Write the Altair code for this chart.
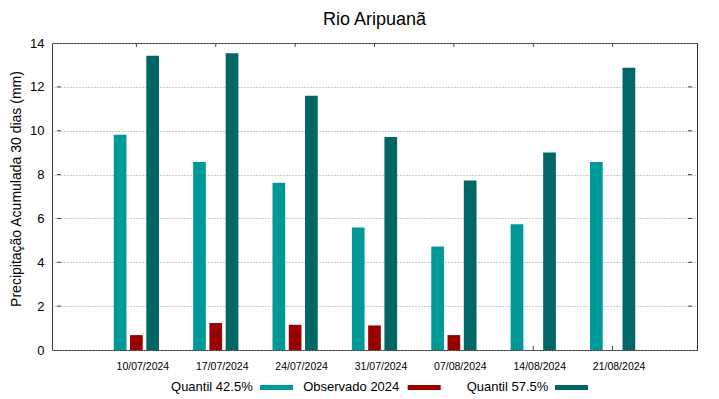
import altair as alt
import pandas as pd

# ---- data ----
dates = ["10/07/2024", "17/07/2024", "24/07/2024", "31/07/2024",
         "07/08/2024", "14/08/2024", "21/08/2024"]
quantil_425 = [9.82, 8.57, 7.63, 5.59, 4.72, 5.74, 8.57]
observado_2024 = [0.68, 1.23, 1.15, 1.12, 0.68, None, None]
quantil_575 = [13.42, 13.53, 11.60, 9.71, 7.73, 9.01, 12.87]

chart_title = "Rio Aripuanã"
y_title = "Precipitação Acumulada 30 dias (mm)"
series_names = ["Quantil 42.5%", "Observado 2024", "Quantil 57.5%"]
series_colors = ["#009999", "#990000", "#006666"]
y_ticks = [0, 2, 4, 6, 8, 10, 12, 14]

rows = []
for i, d in enumerate(dates):
    for name, vals in zip(series_names, [quantil_425, observado_2024, quantil_575]):
        v = vals[i]
        if v is None:
            continue
        rows.append({"pos": i + 1, "date": d, "series": name, "value": v})
df = pd.DataFrame(rows)
pos_df = pd.DataFrame({"pos": list(range(1, len(dates) + 1))})
ytick_df = pd.DataFrame({"v": y_ticks[1:-1]})

label_expr = "[" + ",".join("'%s'" % d for d in dates) + "][datum.value - 1]"

x_scale = alt.Scale(domain=[0, len(dates) + 1], nice=False, zero=False)
y_scale = alt.Scale(domain=[0, 14], nice=False)

bars = alt.Chart(df).transform_calculate(
    xpos="datum.pos + (datum.series == 'Quantil 42.5%' ? -0.205 : (datum.series == 'Quantil 57.5%' ? 0.205 : 0))"
).mark_bar(size=12.7).encode(
    x=alt.X("xpos:Q", scale=x_scale, axis=alt.Axis(
        values=list(range(1, len(dates) + 1)), labelExpr=label_expr,
        grid=False, ticks=False, domain=False, labelPadding=11, labelOffset=6,
        labelFontSize=10.5, labelColor="#000", title=None)),
    y=alt.Y("value:Q", scale=y_scale, axis=alt.Axis(
        values=y_ticks, grid=True, gridDash=[1, 2], gridColor="#999",
        ticks=False, domain=False, labelFontSize=13, labelPadding=8,
        labelColor="#000",
        title=y_title, titleFontSize=14,
        titleFontWeight="normal", titleColor="#000", titleX=-36, titleY=145.5,
        titleAlign="center", titleBaseline="middle")),
    color=alt.Color("series:N", scale=alt.Scale(domain=series_names, range=series_colors),
                    legend=None),
)

tick_color = "#444"
top_ticks = alt.Chart(pos_df).mark_rule(color=tick_color).encode(
    x=alt.X("pos:Q", scale=x_scale), y=alt.datum(14), y2=alt.datum(13.82))
bottom_ticks = alt.Chart(pos_df).mark_rule(color=tick_color).encode(
    x=alt.X("pos:Q", scale=x_scale), y=alt.datum(0), y2=alt.datum(0.18))
right_ticks = alt.Chart(ytick_df).mark_rule(color=tick_color).encode(
    y=alt.Y("v:Q", scale=y_scale), x=alt.datum(8), x2=alt.datum(7.95))
left_ticks = alt.Chart(ytick_df).mark_rule(color=tick_color).encode(
    y=alt.Y("v:Q", scale=y_scale), x=alt.datum(0), x2=alt.datum(0.05))

title_layer = alt.Chart(pd.DataFrame({"t": [chart_title]})).mark_text(
    align="center", baseline="alphabetic", fontSize=18, color="#000").encode(
    x=alt.value(322.5), y=alt.value(-18.5), text="t:N")

# manual legend (label to the left of the swatch, as in the reference)
text_right = [200.7, 347.3, 496.3]
swatch_left = [208, 355.7, 503]
legend_layers = []
for name, col, tr, sl in zip(series_names, series_colors, text_right, swatch_left):
    one = pd.DataFrame({"t": [name]})
    legend_layers.append(alt.Chart(one).mark_text(
        align="right", baseline="middle", fontSize=13, color="#000").encode(
        x=alt.value(tr), y=alt.value(343.5), text="t:N"))
    legend_layers.append(alt.Chart(one).mark_rect(color=col).encode(
        x=alt.value(sl), x2=alt.value(sl + 33), y=alt.value(342), y2=alt.value(347)))

chart = alt.layer(
    bottom_ticks, top_ticks, left_ticks, right_ticks, bars, title_layer, *legend_layers
).properties(
    width=645, height=307,
    autosize=alt.AutoSizeParams(type="none"),
    padding={"left": 44, "top": 35, "right": 14, "bottom": 45},
).configure(font="Liberation Sans").configure_view(stroke="#333", strokeWidth=1)

chart.save("out.html", embed_options={"renderer": "svg", "actions": False})
